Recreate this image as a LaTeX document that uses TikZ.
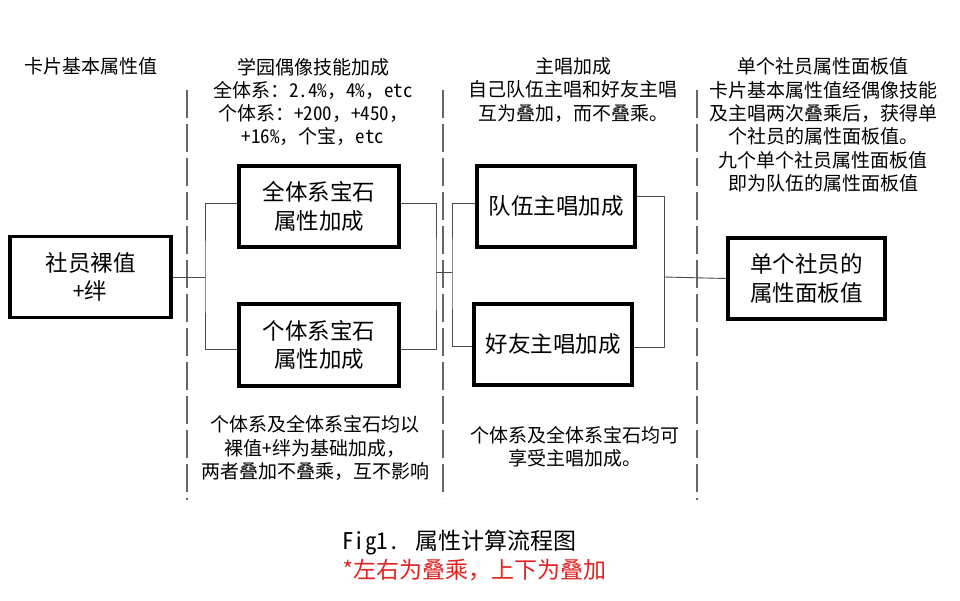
\documentclass[tikz,border=0pt]{standalone}
\usepackage{fontspec}
\setmainfont{Noto Sans CJK SC}
\newfontfamily\hw{Noto Sans CJK SC}[RawFeature={+hwid}]
\definecolor{capred}{RGB}{225,35,35}
\begin{document}
\begin{tikzpicture}[x=1pt,y=-1pt,
  hdr/.style={inner sep=0pt,align=center,font=\fontsize{19}{23.3}\selectfont},
  box/.style={draw,line width=3.6pt,minimum width=160pt,minimum height=81pt,inner sep=0pt,align=center,font=\fontsize{22.5}{28.5}\selectfont},
  conn/.style={draw=black!70,line width=0.9pt},
  sep/.style={draw=black!60,line width=1.2pt,dash pattern=on 28pt off 6pt}]
\useasboundingbox (0,0) rectangle (960,601);
% separators
\coordinate (s1t) at (187,90); \coordinate (s1b) at (187,500);
\coordinate (s2t) at (443,90); \coordinate (s2b) at (443,498);
\coordinate (s3t) at (697,90); \coordinate (s3b) at (697,500);
\draw[sep] (s1t) -- (s1b);
\draw[sep] (s2t) -- (s2b);
\draw[sep] (s3t) -- (s3b);
% headers
\node[hdr] (h1) at (91,66) {卡片基本属性值};
\node[hdr] (h2) at (313,102) {学园偶像技能加成\\全体系：{\hw 2.4\%}，{\hw 4\%}，{\hw etc}\\个体系：{\hw +200}，{\hw +450}，\\{\hw +16\%}，个宝，{\hw etc}};
\node[hdr] (h3) at (573,90) {主唱加成\\自己队伍主唱和好友主唱\\互为叠加，而不叠乘。};
\node[hdr] (h4) at (823,125) {单个社员属性面板值\\卡片基本属性值经偶像技能\\及主唱两次叠乘后，获得单\\个社员的属性面板值。\\九个单个社员属性面板值\\即为队伍的属性面板值};
% boxes
\node[box,minimum width=161pt] (A) at (90.5,277) {社员裸值\\{\hw +}绊};
\node[box] (B) at (319,206.5) {全体系宝石\\属性加成};
\node[box,minimum height=82pt] (C) at (319,345) {个体系宝石\\属性加成};
\node[box,minimum width=158pt] (D) at (556,206.5) {队伍主唱加成};
\node[box,minimum width=158pt] (E) at (553,344.5) {好友主唱加成};
\node[box,minimum width=157pt] (F) at (806.5,278.5) {单个社员的\\属性面板值};
% connectors
\coordinate (j1) at (205,277);
\coordinate (j2) at (436,272);
\coordinate (j3) at (452,272);
\coordinate (j4) at (664,277);
\draw[conn] (A.east) -- (j1);
\draw[conn] ([yshift=3pt]B.west) -| (j1) |- ([yshift=-4pt]C.west);
\draw[conn] ([yshift=3pt]B.east) -| (j2) |- ([yshift=-4pt]C.east);
\draw[conn] (j2) -- (j3);
\draw[conn] ([yshift=3pt]D.west) -| (j3) |- ([yshift=-2pt]E.west);
\draw[conn] ([yshift=10pt]D.east) -| (j4) |- ([yshift=-2.5pt]E.east);
\draw[conn] (j4) -- (F.west);
% notes
\node[hdr] (n1) at (315,448) {个体系及全体系宝石均以\\裸值{\hw +}绊为基础加成，\\两者叠加不叠乘，互不影响};
\node[hdr] (n2) at (575,447) {个体系及全体系宝石均可\\享受主唱加成。};
% caption
\node[inner sep=0pt,anchor=west,font=\fontsize{23}{28}\selectfont] (cap1) at (342,543) {{\hw Fig1. }属性计算流程图};
\node[inner sep=0pt,anchor=west,text=capred,font=\fontsize{23}{28}\selectfont] (cap2) at (342,570) {{\hw *}左右为叠乘，上下为叠加};
\end{tikzpicture}
\end{document}
